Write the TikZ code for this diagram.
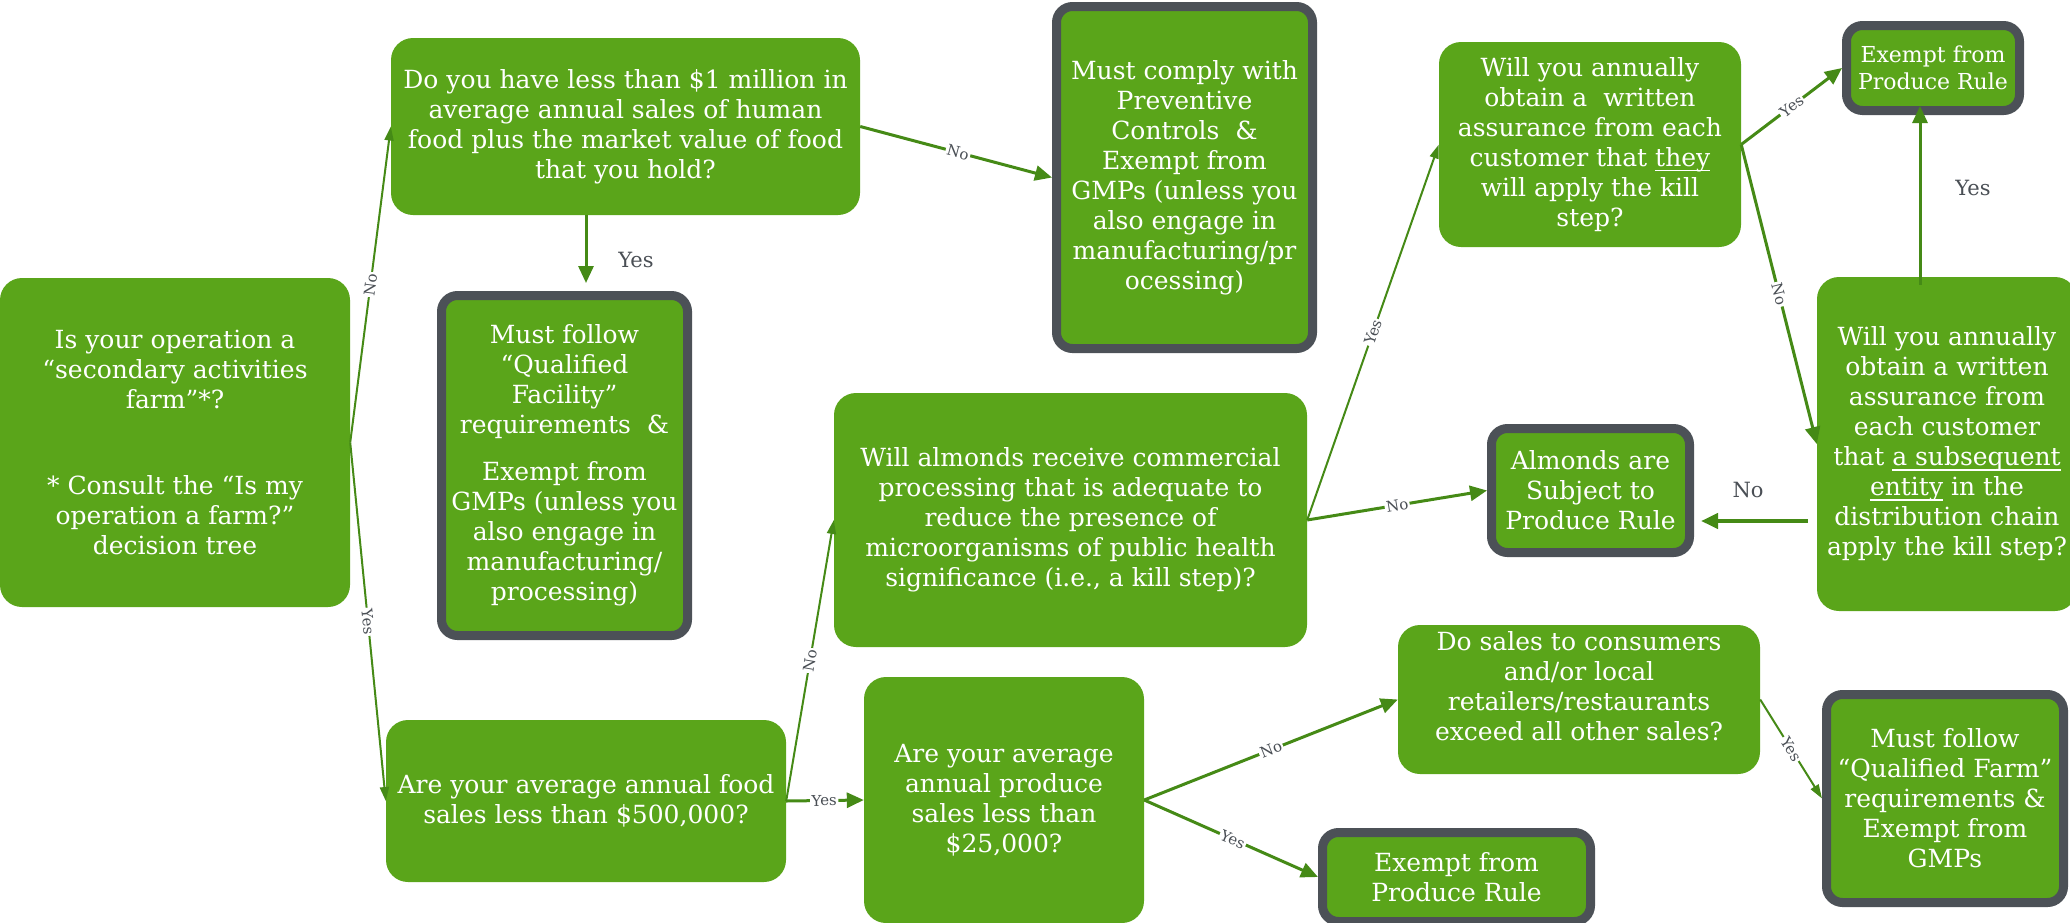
\documentclass[tikz,border=0pt]{standalone}
\usepackage{fontspec}
\setmainfont{DejaVu Serif}
\usetikzlibrary{arrows.meta,calc}

\definecolor{leaf}{HTML}{5AA51A}
\definecolor{stem}{HTML}{458A16}
\definecolor{rim}{HTML}{4C5157}
\definecolor{note}{HTML}{4A4F55}

\newcommand\boxtextfont{\fontsize{25}{30}\selectfont}
\newcommand\smallboxfont{\fontsize{22}{27}\selectfont}
\newcommand\edgetagfont{\fontsize{15}{17}\selectfont}
\newcommand\bigtagfont{\fontsize{21}{24}\selectfont}
% underline set close to the baseline
\newcommand\undl[1]{\setbox0\hbox{#1}\rlap{\rule[-5pt]{\wd0}{1.3pt}}\box0\relax}

\tikzset{
  qbox/.style={fill=leaf, rounded corners=22pt, text=white, align=center,
    inner sep=0pt, font=\boxtextfont},
  endbox/.style={qbox, draw=rim, line width=9pt, rounded corners=16pt},
  flow/.style={draw=stem, line width=3pt, -{Triangle[length=17pt,width=15pt]}},
  thinflow/.style={draw=stem, line width=2pt, -{Triangle[length=14pt,width=9pt]}},
  tag/.style={font=\edgetagfont, text=note, fill=white, inner sep=1.5pt, sloped},
  bigtag/.style={font=\bigtagfont, text=note},
}

\begin{document}
\begin{tikzpicture}[x=1pt, y=-1pt]
\useasboundingbox (0,0) rectangle (2070,922);
\clip (0,0) rectangle (2070,922);

% question boxes
\node[qbox, minimum width=350pt, minimum height=329pt] (A) at (175,442.5)
  {Is your operation a\\“secondary activities\\farm”*?\\[56pt]
   * Consult the “Is my\\operation a farm?”\\decision tree};
\node[qbox, minimum width=469pt, minimum height=177pt] (B) at (625.5,126.5)
  {Do you have less than \$1 million in\\average annual sales of human\\food plus the market value of food\\that you hold?};
\node[qbox, minimum width=302pt, minimum height=205pt] (E) at (1590,144.5)
  {Will you annually\\obtain a\ \ written\\assurance from each\\customer that \undl{they}\\will apply the kill\\step?};
\node[qbox, minimum width=260pt, minimum height=334pt] (G) at (1947,444)
  {Will you annually\\obtain a written\\assurance from\\each customer\\that \undl{a subsequent}\\\undl{entity} in the\\distribution chain\\apply the kill step?};
\node[qbox, minimum width=473pt, minimum height=254pt] (I) at (1070.5,520)
  {Will almonds receive commercial\\processing that is adequate to\\reduce the presence of\\microorganisms of public health\\significance (i.e., a kill step)?};
\node[qbox, minimum width=400pt, minimum height=162pt] (J) at (586,801)
  {Are your average annual food\\sales less than \$500,000?};
\node[qbox, minimum width=280pt, minimum height=246pt] (K) at (1004,800)
  {Are your average\\annual produce\\sales less than\\\$25,000?};
\node[qbox, minimum width=362pt, minimum height=149pt] (L) at (1579,699.5) {};
\node[text=white, align=center, font=\boxtextfont, inner sep=0pt] (Ltext) at (1579,686)
  {Do sales to consumers\\and/or local\\retailers/restaurants\\exceed all other sales?};

% outcome boxes
\node[endbox, minimum width=246pt, minimum height=340pt] (C) at (564.5,465.5)
  {Must follow\\“Qualified\\Facility”\\requirements\ \ \&\\[17pt]Exempt from\\GMPs (unless you\\also engage in\\manufacturing/\\processing)};
\node[endbox, minimum width=256pt, minimum height=342pt] (D) at (1184.5,177.5)
  {Must comply with\\Preventive\\Controls\ \ \&\\Exempt from\\GMPs (unless you\\also engage in\\manufacturing/pr\\ocessing)};
\node[endbox, minimum width=173pt, minimum height=85pt, font=\smallboxfont] (F) at (1933,68)
  {Exempt from\\Produce Rule};
\node[endbox, minimum width=198pt, minimum height=124pt] (H) at (1590.5,490.5)
  {Almonds are\\Subject to\\Produce Rule};
\node[endbox, minimum width=237pt, minimum height=208pt] (M) at (1945,798.5)
  {Must follow\\“Qualified Farm”\\requirements \&\\Exempt from\\GMPs};
\node[endbox, minimum width=268pt, minimum height=89pt] (N) at (1456.5,877)
  {Exempt from\\Produce Rule};

% connectors
\draw[thinflow] (A.east) -- (B.west) node[tag, pos=0.5] {No};
\draw[thinflow] (A.east) -- (J.west) node[tag, pos=0.5] {Yes};
\draw[flow] (B.east) -- (D.west) node[tag, pos=0.51] {No};
\draw[flow, shorten >=8pt] ([xshift=-39.5pt]B.south) -- ([xshift=21.5pt]C.north);
\node[bigtag] (yesB) at (636,260) {Yes};
\draw[thinflow] (J.east) -- (I.west) node[tag, pos=0.5] {No};
\draw[flow] (J.east) -- (K.west) node[tag, pos=0.49] {Yes};
\draw[thinflow] (I.east) -- (E.west) node[tag, pos=0.5] {Yes};
\draw[flow] (I.east) -- (H.west) node[tag, pos=0.5] {No};
\draw[flow] (E.east) -- (F.west) node[tag, pos=0.5] {Yes};
\draw[flow] (E.east) -- (G.west) node[tag, pos=0.5] {No};
\draw[flow] ([xshift=-27pt,yshift=-8pt]G.north) -- ([xshift=-13pt,yshift=9pt]F.south);
\node[bigtag] (yesG) at (1973,188) {Yes};
\draw[flow, line width=4pt, shorten >=7pt] ([xshift=-9pt,yshift=-77pt]G.west) -- ([yshift=-30.5pt]H.east);
\node[bigtag] (noG) at (1748,490) {No};
\draw[flow] (K.east) -- (L.west) node[tag, pos=0.5] {No};
\draw[flow] (K.east) -- (N.west) node[tag, pos=0.51] {Yes};
\draw[thinflow] (L.east) -- (M.west) node[tag, pos=0.5] {Yes};
\end{tikzpicture}
\end{document}
